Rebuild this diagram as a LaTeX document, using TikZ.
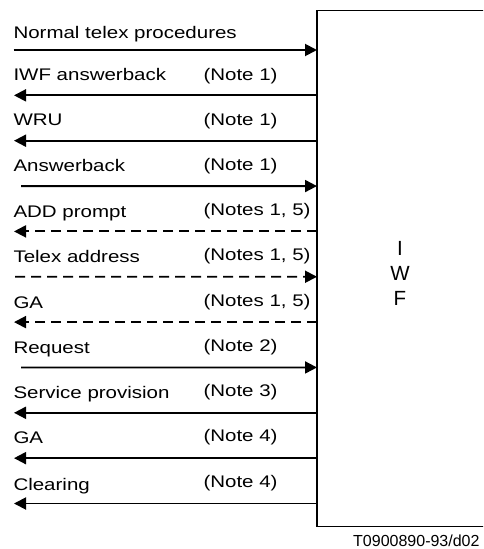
\documentclass[tikz,border=0pt]{standalone}
\usepackage{fontspec}
\setmainfont{Liberation Sans}
\usetikzlibrary{arrows.meta}

% wide-set label text
\newcommand\widetext[1]{\scalebox{1.22}[1]{#1}}

\tikzset{
  msg/.style={line width=1.9pt, -{Triangle[length=12pt,width=12pt]}},
  dmsg/.style={msg, dash pattern=on 10pt off 6pt},
  lbl/.style={anchor=base west, inner sep=0pt, font=\fontsize{16.8}{20}\selectfont},
  iwfbox/.style={draw, line width=1.2pt},
}

\begin{document}
\begin{tikzpicture}[x=1pt, y=-1pt]
  \useasboundingbox (0,0) rectangle (483,549);
  \begin{scope}
    \clip (0,0) rectangle (483,549);
    % interworking function block (right side runs off the page)
    \draw[iwfbox] (317,10.7) rectangle (500,526.7);
  \end{scope}
  % figure reference
  \node[anchor=base west, inner sep=0pt, font=\fontsize{16}{18}\selectfont] (ref) at (353,546) {T0900890-93/d02};
  \node[align=center, font=\fontsize{20.5}{25}\selectfont] (iwf) at (400,273) {I\\W\\F};

  % anchor points on the IWF side and on the far side
  \foreach \i in {1,...,11}{
    \pgfmathsetmacro\yy{50+(\i-1)*45.35}
    \coordinate (r\i) at (317,\yy);
    \coordinate (l\i) at (14,\yy);
  }
  \coordinate (s1) at (13.5,50);
  \coordinate (s4) at (21,186.05);
  \coordinate (s6) at (15,276.75);
  \coordinate (s8) at (21,367.45);

  % messages
  \draw[msg]  (s1) -- (r1);
  \draw[msg]  (r2) -- (l2);
  \draw[msg]  (r3) -- (l3);
  \draw[msg]  (s4) -- (r4);
  \draw[dmsg] (r5) -- (l5);
  \draw[dmsg] (s6) -- (r6);
  \draw[dmsg] (r7) -- (l7);
  \draw[msg]  (s8) -- (r8);
  \draw[msg]  (r9) -- (l9);
  \draw[msg]  (r10) -- (l10);
  \draw[msg]  (r11) -- (l11);

  % message names
  \node[lbl] (t1)  at (13.3,38.5)  {\widetext{Normal telex procedures}};
  \node[lbl] (t2)  at (13.3,80.5)  {\widetext{IWF answerback}};
  \node[lbl] (t3)  at (13.3,125.5) {\widetext{WRU}};
  \node[lbl] (t4)  at (13.3,171)   {\widetext{Answerback}};
  \node[lbl] (t5)  at (13.3,217.5) {\widetext{ADD prompt}};
  \node[lbl] (t6)  at (13.3,262)   {\widetext{Telex address}};
  \node[lbl] (t7)  at (13.3,308)   {\widetext{GA}};
  \node[lbl] (t8)  at (13.3,353.5) {\widetext{Request}};
  \node[lbl] (t9)  at (13.3,398.5) {\widetext{Service provision}};
  \node[lbl] (t10) at (13.3,443.5) {\widetext{GA}};
  \node[lbl] (t11) at (13.3,490)   {\widetext{Clearing}};

  % notes
  \node[lbl] (n2)  at (203.3,80.5)  {\widetext{(Note 1)}};
  \node[lbl] (n3)  at (203.3,125.5) {\widetext{(Note 1)}};
  \node[lbl] (n4)  at (203.3,170)   {\widetext{(Note 1)}};
  \node[lbl] (n5)  at (203.3,215)   {\widetext{(Notes 1, 5)}};
  \node[lbl] (n6)  at (203.3,260.5) {\widetext{(Notes 1, 5)}};
  \node[lbl] (n7)  at (203.3,306.5) {\widetext{(Notes 1, 5)}};
  \node[lbl] (n8)  at (203.3,351.5) {\widetext{(Note 2)}};
  \node[lbl] (n9)  at (203.3,396.5) {\widetext{(Note 3)}};
  \node[lbl] (n10) at (203.3,441.5) {\widetext{(Note 4)}};
  \node[lbl] (n11) at (203.3,487)   {\widetext{(Note 4)}};
\end{tikzpicture}
\end{document}
